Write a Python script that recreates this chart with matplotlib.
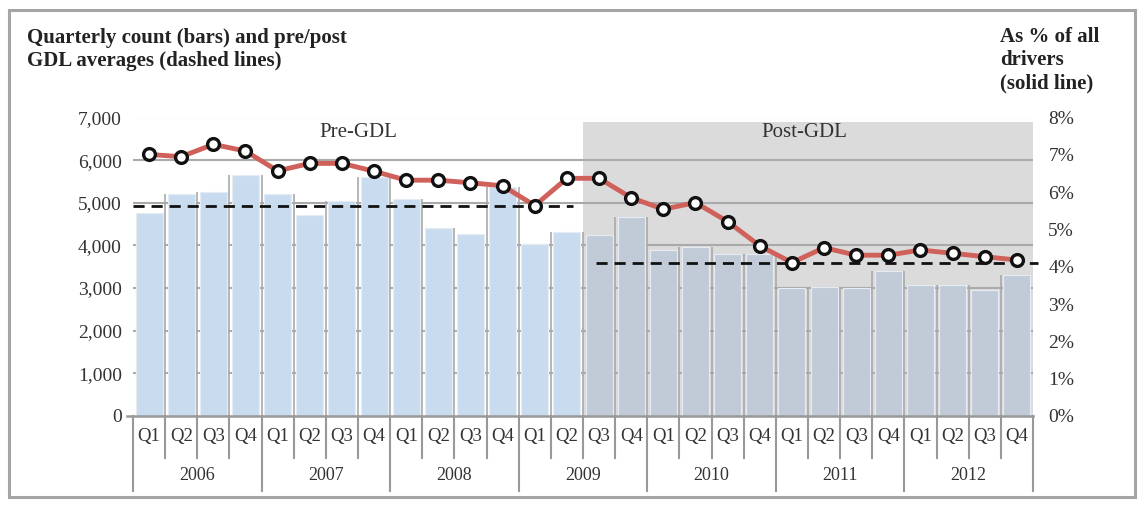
import matplotlib
matplotlib.use("Agg")
import matplotlib.pyplot as plt
from matplotlib.transforms import blended_transform_factory
from matplotlib.patches import Rectangle
from matplotlib.ticker import FuncFormatter, MultipleLocator

# ---- data ----
years = ["2006", "2007", "2008", "2009", "2010", "2011", "2012"]
quarters = ["Q1", "Q2", "Q3", "Q4"]
counts = [4750, 5200, 5260, 5650, 5200, 4710, 5040, 5610, 5090, 4410, 4260, 5360, 4030, 4320,
          4250, 4660, 3900, 3970, 3800, 3800, 3000, 3030, 2990, 3400, 3070, 3070, 2960, 3300]
pct_of_drivers = [7.01, 6.95, 7.28, 7.10, 6.57, 6.77, 6.77, 6.56, 6.32, 6.32, 6.25, 6.17, 5.64, 6.37,
                  6.37, 5.85, 5.54, 5.72, 5.21, 4.56, 4.11, 4.51, 4.31, 4.31, 4.45, 4.36, 4.27, 4.18]
pre_avg = 4920
post_avg = 3580
post_start = 14  # first post-GDL quarter (2009 Q3)

W, H = 1141, 508
fig = plt.figure(figsize=(W / 100, H / 100), dpi=100)
fig.patch.set_facecolor("white")
serif = ["Liberation Serif", "DejaVu Serif"]
plt.rcParams["font.family"] = serif

def fx(px):
    return px / W

def fy(py):
    return 1 - py / H

left, right, top, bottom = 133, 1033, 117.5, 416
ax = fig.add_axes([fx(left), fy(bottom), fx(right - left), (bottom - top) / H])
n = len(counts)
xs = list(range(n))
ax.set_xlim(-0.5, n - 0.5)
ax.set_ylim(0, 7000)

# post-GDL shading
ax.axvspan(post_start - 0.5, n - 0.5, ymin=0, ymax=0.985, color="#dcdbdb", zorder=0, lw=0)

# gridlines
for v in range(1000, 8000, 1000):
    ax.axhline(v, color="#aaaaaa", lw=1.5, zorder=1)
ax.plot([-0.7, n - 0.5], [0, 0], color="#999999", lw=1.8, zorder=4, clip_on=False)

# bars
bar_colors = ["#c9dcef" if i < post_start else "#c1cbd8" for i in xs]
ax.bar(xs, counts, width=0.84, color=bar_colors, edgecolor="#e6ecf3", linewidth=0.8, zorder=2)

# separators between bars
for k in range(1, n):
    ax.vlines(k - 0.5, 0, max(counts[k - 1], counts[k]), color="#a9a9a9", lw=1.2, zorder=2)

# pre/post averages
ax.plot([-0.5, post_start - 0.8], [pre_avg, pre_avg], color="#111111", lw=2,
        dashes=(4, 2.5), zorder=5)
ax.plot([post_start - 0.1, n - 0.35], [post_avg, post_avg], color="#111111", lw=2,
        dashes=(4, 2.5), zorder=5, clip_on=False)

# percentage line
ax2 = ax.twinx()
ax2.set_ylim(0, 8)
ax2.plot(xs, pct_of_drivers, color="#d0605a", lw=3.5, zorder=6,
         marker="o", markersize=8.5, markerfacecolor="white", markeredgecolor="#111111",
         markeredgewidth=2.4)

# axis styling
for a in (ax, ax2):
    for s in a.spines.values():
        s.set_visible(False)
    a.tick_params(length=0, colors="#333333", labelsize=14)
ax.set_xticks([])
ax.yaxis.set_major_locator(MultipleLocator(1000))
ax.yaxis.set_major_formatter(FuncFormatter(lambda v, p: f"{int(v):,}"))
ax.tick_params(axis="y", pad=8)
ax2.yaxis.set_major_locator(MultipleLocator(1))
ax2.yaxis.set_major_formatter(FuncFormatter(lambda v, p: f"{int(v)}%"))
ax2.tick_params(axis="y", pad=11)
for lbl in ax.get_yticklabels() + ax2.get_yticklabels():
    lbl.set_fontfamily(serif)

# category axis: quarters and years
tr = blended_transform_factory(ax.transData, fig.transFigure)
for i in xs:
    ax.text(i, fy(437), quarters[i % 4], transform=tr, ha="center", va="center",
            fontsize=13.5, color="#333333", clip_on=False)
for k in range(1, n):
    if k % 4:
        ax.plot([k - 0.5, k - 0.5], [fy(bottom), fy(458)], transform=tr, color="#999999",
                lw=1.5, clip_on=False)
for y in range(len(years) + 1):
    xb = 4 * y - 0.5
    ax.plot([xb, xb], [fy(bottom), fy(491)], transform=tr, color="#999999", lw=1.5,
            clip_on=False)
for y, name in enumerate(years):
    ax.text(4 * y + 1.5, fy(475), name, transform=tr, ha="center", va="center",
            fontsize=13, color="#333333", clip_on=False)

# period labels
ax.text(6.5, 6650, "Pre-GDL", ha="center", va="center", fontsize=15, color="#333333", zorder=7)
ax.text(20.4, 6650, "Post-GDL", ha="center", va="center", fontsize=15, color="#333333", zorder=7)

# headings
fig.text(fx(27), fy(28), "Quarterly count (bars) and pre/post\nGDL averages (dashed lines)",
         ha="left", va="top", fontsize=15, fontweight="bold", color="#222222",
         linespacing=1.2)
fig.text(fx(1000), fy(27), "As % of all\ndrivers\n(solid line)", ha="left", va="top",
         fontsize=15, fontweight="bold", color="#222222", linespacing=1.2)

# outer frame
fig.patches.append(Rectangle((fx(9), fy(497)), fx(1126), (497 - 10) / H,
                             transform=fig.transFigure, fill=False,
                             edgecolor="#a5a5a5", lw=2.2))

fig.savefig("out.png", dpi=100)
